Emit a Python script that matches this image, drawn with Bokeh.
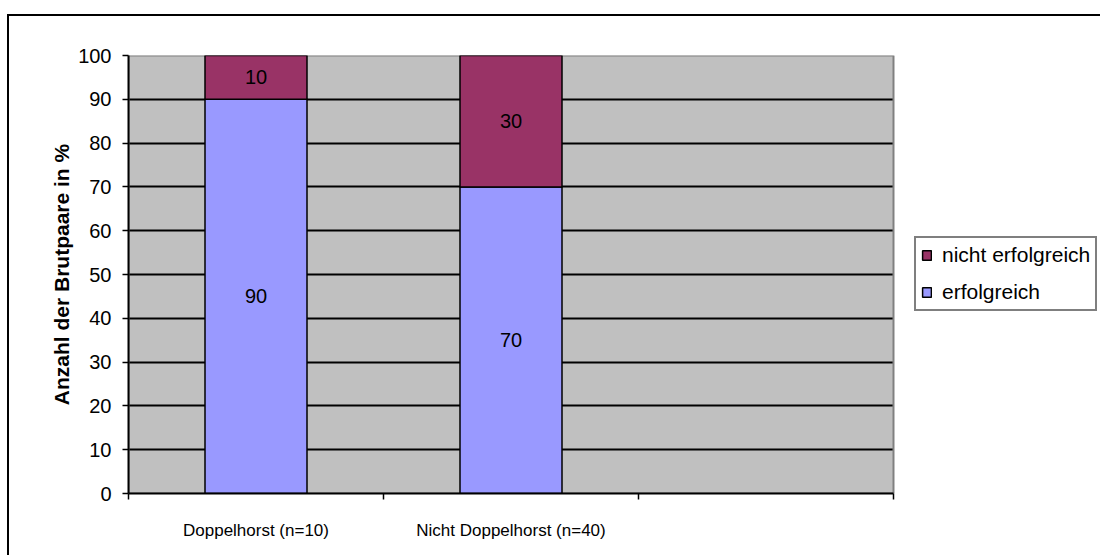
from bokeh.plotting import figure
from bokeh.models import (FixedTicker, ColumnDataSource, Legend, LegendItem,
                          LabelSet, Range1d)
from bokeh.core.properties import value
from bokeh.embed import file_html
from bokeh.resources import INLINE

# ---- data ----
categories = ["Doppelhorst (n=10)", "Nicht Doppelhorst (n=40)", ""]
erfolgreich = [90, 70]
nicht_erfolgreich = [10, 30]
y_ticks = [0, 10, 20, 30, 40, 50, 60, 70, 80, 90, 100]
y_label = "Anzahl der Brutpaare in %"

FONT = "Liberation Sans"
BLUE = "#9999FF"
MAROON = "#993366"

# layout: the gray plot area is 765 px wide, the frame also holds the legend
PLOT_W, FRAME_W, FRAME_H = 765, 972, 438
n_slots = len(categories)
x_end = n_slots * FRAME_W / PLOT_W

p = figure(frame_width=FRAME_W, frame_height=FRAME_H, output_backend="svg",
           toolbar_location=None,
           x_range=Range1d(0, x_end), y_range=Range1d(0, 100),
           min_border_left=128, min_border_right=0,
           min_border_top=55, min_border_bottom=62)
p.background_fill_color = None
p.border_fill_color = None
p.outline_line_color = None
# outer chart frame (left and top edges visible in the window)
p.styles = {
    "background": ("linear-gradient(#000,#000) 7px 14px / 2px 100% no-repeat, "
                   "linear-gradient(#000,#000) 7px 14px / 100% 2px no-repeat, white"),
}

y0, y1 = y_ticks[0], y_ticks[-1]
# gray plot area
p.quad(left=[0], right=[n_slots], bottom=[y0], top=[y1],
       fill_color="#C0C0C0", line_color=None, level="image")

# grid
p.xgrid.visible = False
p.ygrid.ticker = FixedTicker(ticks=y_ticks[1:-1])
p.ygrid.grid_line_color = "black"
p.ygrid.grid_line_width = 2

# blank out grid lines right of the plot area, then the plot area's border
p.quad(left=[n_slots], right=[x_end], bottom=[y0], top=[y1],
       fill_color="white", line_color=None)
p.quad(left=[0], right=[n_slots], bottom=[y0], top=[y1],
       fill_color=None, line_color="#808080", line_width=2)

# y axis
ya = p.yaxis[0]
ya.ticker = FixedTicker(ticks=y_ticks)
ya.axis_line_color = "black"
ya.axis_line_width = 2
ya.major_tick_line_color = "black"
ya.major_tick_line_width = 1.5
ya.major_tick_out = 6
ya.major_tick_in = 0
ya.minor_tick_line_color = None
ya.major_label_standoff = 11
ya.major_label_text_font = FONT
ya.major_label_text_font_size = "20px"
ya.major_label_text_color = "black"
ya.axis_label = y_label
ya.axis_label_text_font = FONT
ya.axis_label_text_font_size = "21px"
ya.axis_label_text_font_style = "bold"
ya.axis_label_text_color = "black"
ya.axis_label_standoff = 2

# x axis: labels at slot centres, tick marks at slot boundaries
xa = p.xaxis[0]
centers = [i + 0.5 for i in range(n_slots)]
bounds = [float(i) for i in range(n_slots + 1)]
xa.ticker = FixedTicker(ticks=centers, minor_ticks=bounds)
xa.bounds = (0, n_slots)
xa.major_label_overrides = {c: lab for c, lab in zip(centers, categories)}
xa.axis_line_color = "black"
xa.axis_line_width = 2
xa.major_tick_line_color = None
xa.major_tick_out = 0
xa.major_tick_in = 0
xa.minor_tick_line_color = "black"
xa.minor_tick_line_width = 1.5
xa.minor_tick_out = 6
xa.minor_tick_in = 0
xa.major_label_standoff = 21
xa.major_label_text_font = FONT
xa.major_label_text_font_size = "17px"
xa.major_label_text_color = "black"

# bars
n = len(erfolgreich)
xs = centers[:n]
src = ColumnDataSource(dict(
    x=xs, e=erfolgreich, ne=nicht_erfolgreich,
    top2=[a + b for a, b in zip(erfolgreich, nicht_erfolgreich)],
    zero=[0] * n,
    e_mid=[a / 2 for a in erfolgreich],
    ne_mid=[a + b / 2 for a, b in zip(erfolgreich, nicht_erfolgreich)],
    e_txt=[str(v) for v in erfolgreich],
    ne_txt=[str(v) for v in nicht_erfolgreich],
))
r_e = p.vbar(x="x", width=0.4, bottom="zero", top="e", source=src,
             fill_color=BLUE, line_color="black", line_width=1.5)
r_ne = p.vbar(x="x", width=0.4, bottom="e", top="top2", source=src,
              fill_color=MAROON, line_color="black", line_width=1.5)

for ycol, tcol in (("e_mid", "e_txt"), ("ne_mid", "ne_txt")):
    p.add_layout(LabelSet(x="x", y=ycol, text=tcol, source=src,
                          text_align="center", text_baseline="middle",
                          text_font=value(FONT), text_font_size=value("20px"),
                          text_color="black"))

legend = Legend(items=[LegendItem(label="nicht erfolgreich", renderers=[r_ne]),
                       LegendItem(label="erfolgreich", renderers=[r_e])],
                location=(PLOT_W + 21, 182))
legend.label_text_font = FONT
legend.label_text_font_size = "21px"
legend.label_text_color = "black"
legend.glyph_width = 11
legend.glyph_height = 12
legend.label_standoff = 10
legend.padding = 5
legend.spacing = 13
legend.margin = 0
legend.border_line_color = "black"
legend.border_line_width = 2
legend.background_fill_color = "white"
legend.background_fill_alpha = 1
p.add_layout(legend)

open("out.html", "w").write(file_html(p, INLINE))
